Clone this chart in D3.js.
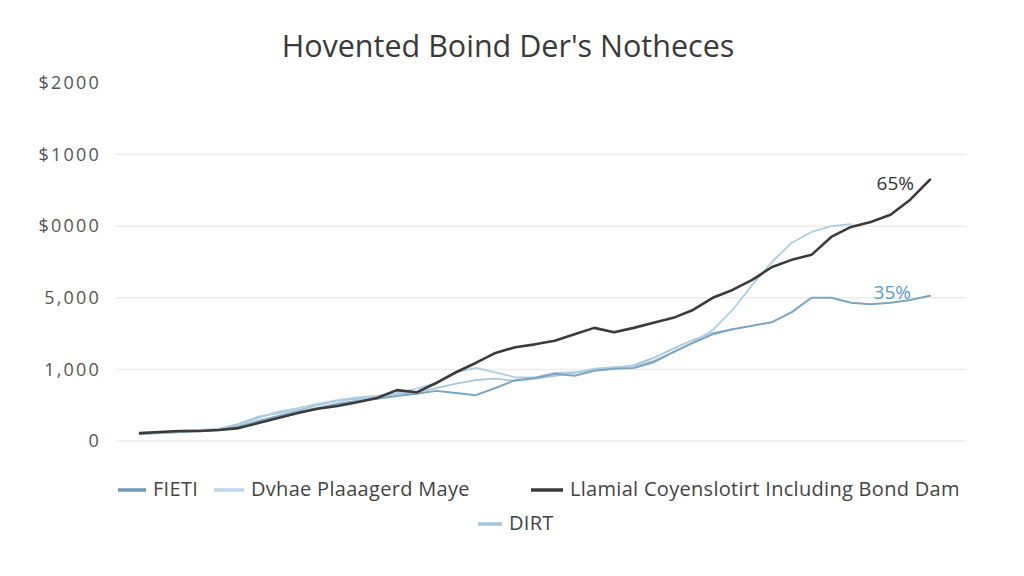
<!DOCTYPE html>
<html>
<head>
<meta charset="utf-8">
<script src="https://cdn.jsdelivr.net/npm/d3@7"></script>
<style>
  body { margin: 0; background: #fff; }
  text { font-family: "Open Sans", "DejaVu Sans", sans-serif; }
</style>
</head>
<body>
<div id="chart"></div>
<script>
// chart data (y in tick units, 0..5)
var chartTitle = "Hovented Boind Der's Notheces";
var tickLabels = ["0", "1,000", "5,000", "$0000", "$1000", "$2000"];
var seriesNames = ["FIETI", "Dvhae Plaaagerd Maye", "Llamial Coyenslotirt Including Bond Dam", "DIRT"];

var firtValues = [0.10, 0.11, 0.126, 0.14, 0.154, 0.20, 0.28, 0.35, 0.41, 0.46, 0.52, 0.56, 0.59, 0.63, 0.66,
  0.70, 0.67, 0.64, 0.74, 0.85, 0.88, 0.94, 0.91, 0.98, 1.01, 1.02, 1.10, 1.24, 1.37, 1.49, 1.56, 1.61, 1.66,
  1.80, 2.00, 2.00, 1.93, 1.91, 1.93, 1.97, 2.03];
var dvhaeValues = [0.11, 0.126, 0.14, 0.154, 0.17, 0.22, 0.32, 0.41, 0.46, 0.52, 0.57, 0.61, 0.63, 0.67, 0.73,
  0.81, 0.96, 1.02, 0.96, 0.89, 0.89, 0.95, 0.96, 1.01, 1.03, 1.05, 1.12, 1.24, 1.38, 1.55, 1.83, 2.18, 2.50,
  2.77, 2.92, 3.00, 3.03];
var llamialValues = [0.11, 0.126, 0.14, 0.14, 0.154, 0.18, 0.25, 0.32, 0.39, 0.45, 0.49, 0.54, 0.60, 0.71, 0.68,
  0.81, 0.96, 1.09, 1.23, 1.31, 1.35, 1.40, 1.49, 1.58, 1.52, 1.58, 1.65, 1.72, 1.83, 2.00, 2.11, 2.25, 2.43,
  2.53, 2.60, 2.85, 2.99, 3.06, 3.16, 3.37, 3.65];
var dirtValues = [0.10, 0.11, 0.126, 0.14, 0.17, 0.24, 0.34, 0.39, 0.43, 0.50, 0.56, 0.59, 0.61, 0.66, 0.68,
  0.74, 0.80, 0.85, 0.87, 0.84, 0.87, 0.91, 0.95, 0.99, 1.01, 1.06, 1.16, 1.29, 1.41, 1.51, 1.56];

var endLabels = ["65%", "35%"];

var svgWidth = 1024, svgHeight = 576;

var svg = d3.select("#chart")
  .append("svg")
  .attr("width", svgWidth)
  .attr("height", svgHeight);

// scales
var xScale = d3.scaleLinear().domain([0, 40]).range([140, 930]);
var yScale = d3.scaleLinear().domain([0, 5]).range([441, 83]);

// title
svg.append("text")
  .attr("x", 508)
  .attr("y", 57)
  .attr("text-anchor", "middle")
  .style("font-size", "30.5px")
  .style("fill", "#3a3a3a")
  .text(chartTitle);

// gridlines
svg.append("g").selectAll("line")
  .data(d3.range(0, 5))
  .enter()
  .append("line")
  .attr("x1", 116)
  .attr("x2", 966)
  .attr("y1", d => yScale(d))
  .attr("y2", d => yScale(d))
  .attr("stroke", "#ececec")
  .attr("stroke-width", 1.5);

// y axis labels
var yAxis = d3.axisLeft(yScale)
  .tickValues(d3.range(0, 6))
  .tickFormat(d => tickLabels[d])
  .tickSize(0)
  .tickPadding(0);

var yAxisG = svg.append("g")
  .attr("transform", "translate(101,0)")
  .call(yAxis);
yAxisG.select(".domain").remove();
yAxisG.selectAll("text")
  .style("font-size", "18px")
  .style("letter-spacing", "2.2px")
  .style("fill", "#555")
  .style("font-family", "'Open Sans', sans-serif");

// lines
var series = [
  { name: seriesNames[3], values: dirtValues, color: "#a9c6d8", width: 1.8 },
  { name: seriesNames[1], values: dvhaeValues, color: "#aecfe2", width: 1.8 },
  { name: seriesNames[0], values: firtValues, color: "#7ea5bf", width: 2 },
  { name: seriesNames[2], values: llamialValues, color: "#3b3b3b", width: 2.6 }
];

var line = d3.line()
  .x((d, i) => xScale(i))
  .y(d => yScale(d));

svg.append("g").selectAll("path")
  .data(series)
  .enter()
  .append("path")
  .attr("d", d => line(d.values))
  .attr("fill", "none")
  .attr("stroke", d => d.color)
  .attr("stroke-width", d => d.width)
  .attr("stroke-linejoin", "round")
  .attr("stroke-linecap", "round");

// end labels
var lastDark = llamialValues.length - 1;
svg.append("text")
  .attr("x", xScale(lastDark) - 16)
  .attr("y", yScale(llamialValues[lastDark]) + 10)
  .attr("text-anchor", "end")
  .style("font-size", "19px")
  .style("fill", "#333")
  .text(endLabels[0]);

var lastFirt = firtValues.length - 1;
svg.append("text")
  .attr("x", xScale(lastFirt) - 19)
  .attr("y", yScale(firtValues[lastFirt]) + 3)
  .attr("text-anchor", "end")
  .style("font-size", "19px")
  .style("fill", "#5c9ac4")
  .text(endLabels[1]);

// legend
var legendItems = [
  { name: seriesNames[0], color: "#6f9ab6", x: 118, y: 490, w: 28 },
  { name: seriesNames[1], color: "#bcd8e8", x: 214, y: 490, w: 30 },
  { name: seriesNames[2], color: "#3b3b3b", x: 531, y: 490, w: 32 },
  { name: seriesNames[3], color: "#a9c6d8", x: 478, y: 524, w: 24 }
];

var legend = svg.append("g").selectAll("g")
  .data(legendItems)
  .enter()
  .append("g")
  .attr("transform", d => `translate(${d.x}, ${d.y})`);

legend.append("line")
  .attr("x1", 0)
  .attr("x2", d => d.w)
  .attr("y1", 0)
  .attr("y2", 0)
  .attr("stroke", d => d.color)
  .attr("stroke-width", 3.5);

legend.append("text")
  .attr("x", d => d.w + 7)
  .attr("y", 6)
  .style("font-size", "20px")
  .style("letter-spacing", "0.3px")
  .style("fill", "#444")
  .text(d => d.name);
</script>
</body>
</html>
